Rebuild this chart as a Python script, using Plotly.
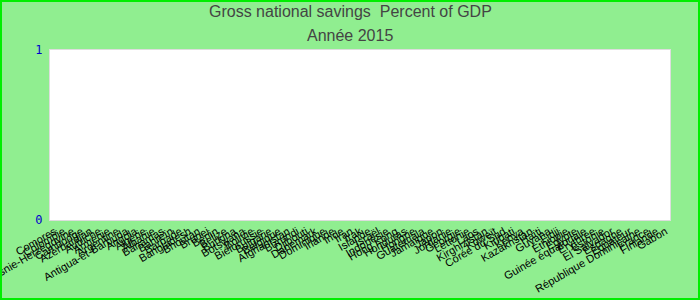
import plotly.graph_objects as go

countries = [
    "Comores", "Colombie", "Bosnie-Herzégovine", "Cambodge", "Azerbaïdjan",
    "Autriche", "Arménie", "Argentine", "Antigua-et-Barbuda", "Angola",
    "Algérie", "Albanie", "Bahamas", "Bahreïn", "Barbade", "Bangladesh",
    "Bhoutan", "Brunei", "Bénin", "Belize", "Burkina", "Botswana", "Bolivie",
    "Biélorussie", "Bulgarie", "Belgique", "Afghanistan", "Burundi",
    "Djibouti", "Danemark", "Dominique", "Irlande", "Inde", "Iran", "Irak",
    "Islande", "Israël", "Indonésie", "Hong Kong", "Honduras", "Hongrie",
    "Guatemala", "Jamaïque", "Japon", "Jordanie", "Géorgie", "Lettonie",
    "Laos", "Kirghizistan", "Koweït", "Corée du Sud", "Kiribati", "Kenya",
    "Kazakhstan", "Haïti", "Guyana", "Fidji", "Éthiopie", "Égypte",
    "Guinée équatoriale", "Érythrée", "Estonie", "El Salvador", "Espagne",
    "Équateur", "République Dominicaine", "France", "Finlande", "Gabon",
]
# No values are shown in the reference for 2015
savings = [None] * len(countries)

title_lines = ["Gross national savings  Percent of GDP", "Année 2015"]

fig = go.Figure(
    go.Bar(x=countries, y=savings, marker_color="#4472c4")
)

fig.update_layout(
    width=700, height=300,
    paper_bgcolor="#90ee90",
    plot_bgcolor="#ffffff",
    margin=dict(l=50, r=30, t=50, b=80, autoexpand=False),
    showlegend=False,
    font=dict(family="Liberation Sans, Arial"),
)
for i, line in enumerate(title_lines):
    fig.add_annotation(text=line, xref="paper", yref="paper",
                       x=0.5 - 10/620, y=1 + (38 - 23 * i)/170,
                       xanchor="center", yanchor="middle", showarrow=False,
                       font=dict(family="Liberation Sans, Arial", size=16, color="#444444"))
fig.update_xaxes(
    type="category", categoryorder="array", categoryarray=countries,
    tickmode="array", tickvals=countries, ticktext=countries,
    tickangle=-30, tickfont=dict(size=11, color="#000000"),
    showgrid=False, showline=True, linecolor="#dddddd", mirror=True,
    automargin=False,
)
fig.update_yaxes(
    range=[0, 1], tickvals=[0, 1], ticktext=["0", "1"],
    tickfont=dict(family="DejaVu Sans Mono", size=12, color="#0000cc"),
    showgrid=False, zeroline=False, showline=True, linecolor="#dddddd", mirror=True,
    automargin=False, ticklabelstandoff=4,
)
fig.add_shape(type="rect", xref="paper", yref="paper", x0=-50/620 + 1/620, x1=1 + 29/620,
              y0=-80/170 + 1/170, y1=1 + 49/170, line=dict(color="#00ee00", width=2),
              fillcolor="rgba(0,0,0,0)")

fig.write_html("out.html")
